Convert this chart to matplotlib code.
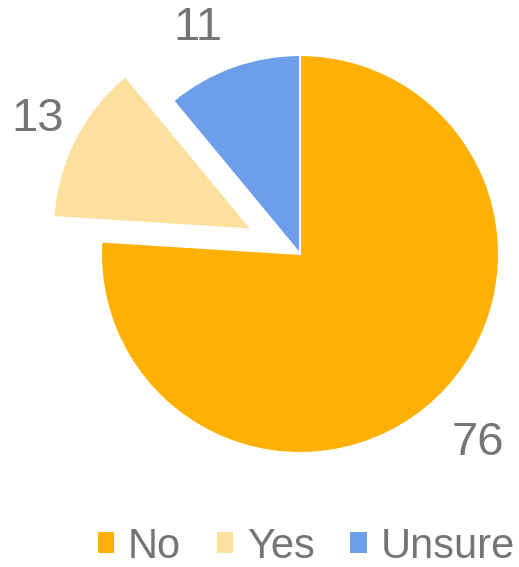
import matplotlib
matplotlib.use("Agg")
import matplotlib.pyplot as plt
from matplotlib.patches import Patch

categories = ["No", "Yes", "Unsure"]
values = [76, 13, 11]
colors = ["#FFB000", "#FDE09E", "#6C9EEA"]
explode = [0, 0.27, 0]

plt.rcParams['font.family'] = ['Liberation Sans', 'DejaVu Sans']

W, H = 519, 567
fig = plt.figure(figsize=(W / 100, H / 100), dpi=100)
ax = fig.add_axes([0, 0, 1, 1])

R = 199.0
cx, cy = 300.0, 254.0

wedges, texts = ax.pie(values, labels=[str(v) for v in values], colors=colors,
                       explode=explode, startangle=90, counterclock=False,
                       labeldistance=1.25,
                       wedgeprops=dict(edgecolor="white", linewidth=1.5),
                       textprops=dict(color="#757575", fontsize=34))
# pixel nudges (dx right, dy down) to match label placement
nudges = [(8, 8), (7, 2), (-18, 8)]
for t, (dx, dy) in zip(texts, nudges):
    t.set_ha("center")
    t.set_va("center")
    x, y = t.get_position()
    t.set_position((x + dx / R, y - dy / R))

ax.set_xlim(-cx / R, (W - cx) / R)
ax.set_ylim(-(H - cy) / R, cy / R)
ax.set_aspect("equal")
ax.axis("off")

handles = [Patch(facecolor=c, edgecolor="none") for c in colors]
fig.legend(handles, categories, loc="center", bbox_to_anchor=(0.59, 0.036),
           ncol=3, frameon=False, fontsize=30, labelcolor="#757575",
           handlelength=0.4, handleheight=0.4, handletextpad=0.33,
           columnspacing=0.85, borderpad=0, borderaxespad=0)

fig.savefig("out.png", dpi=100)
